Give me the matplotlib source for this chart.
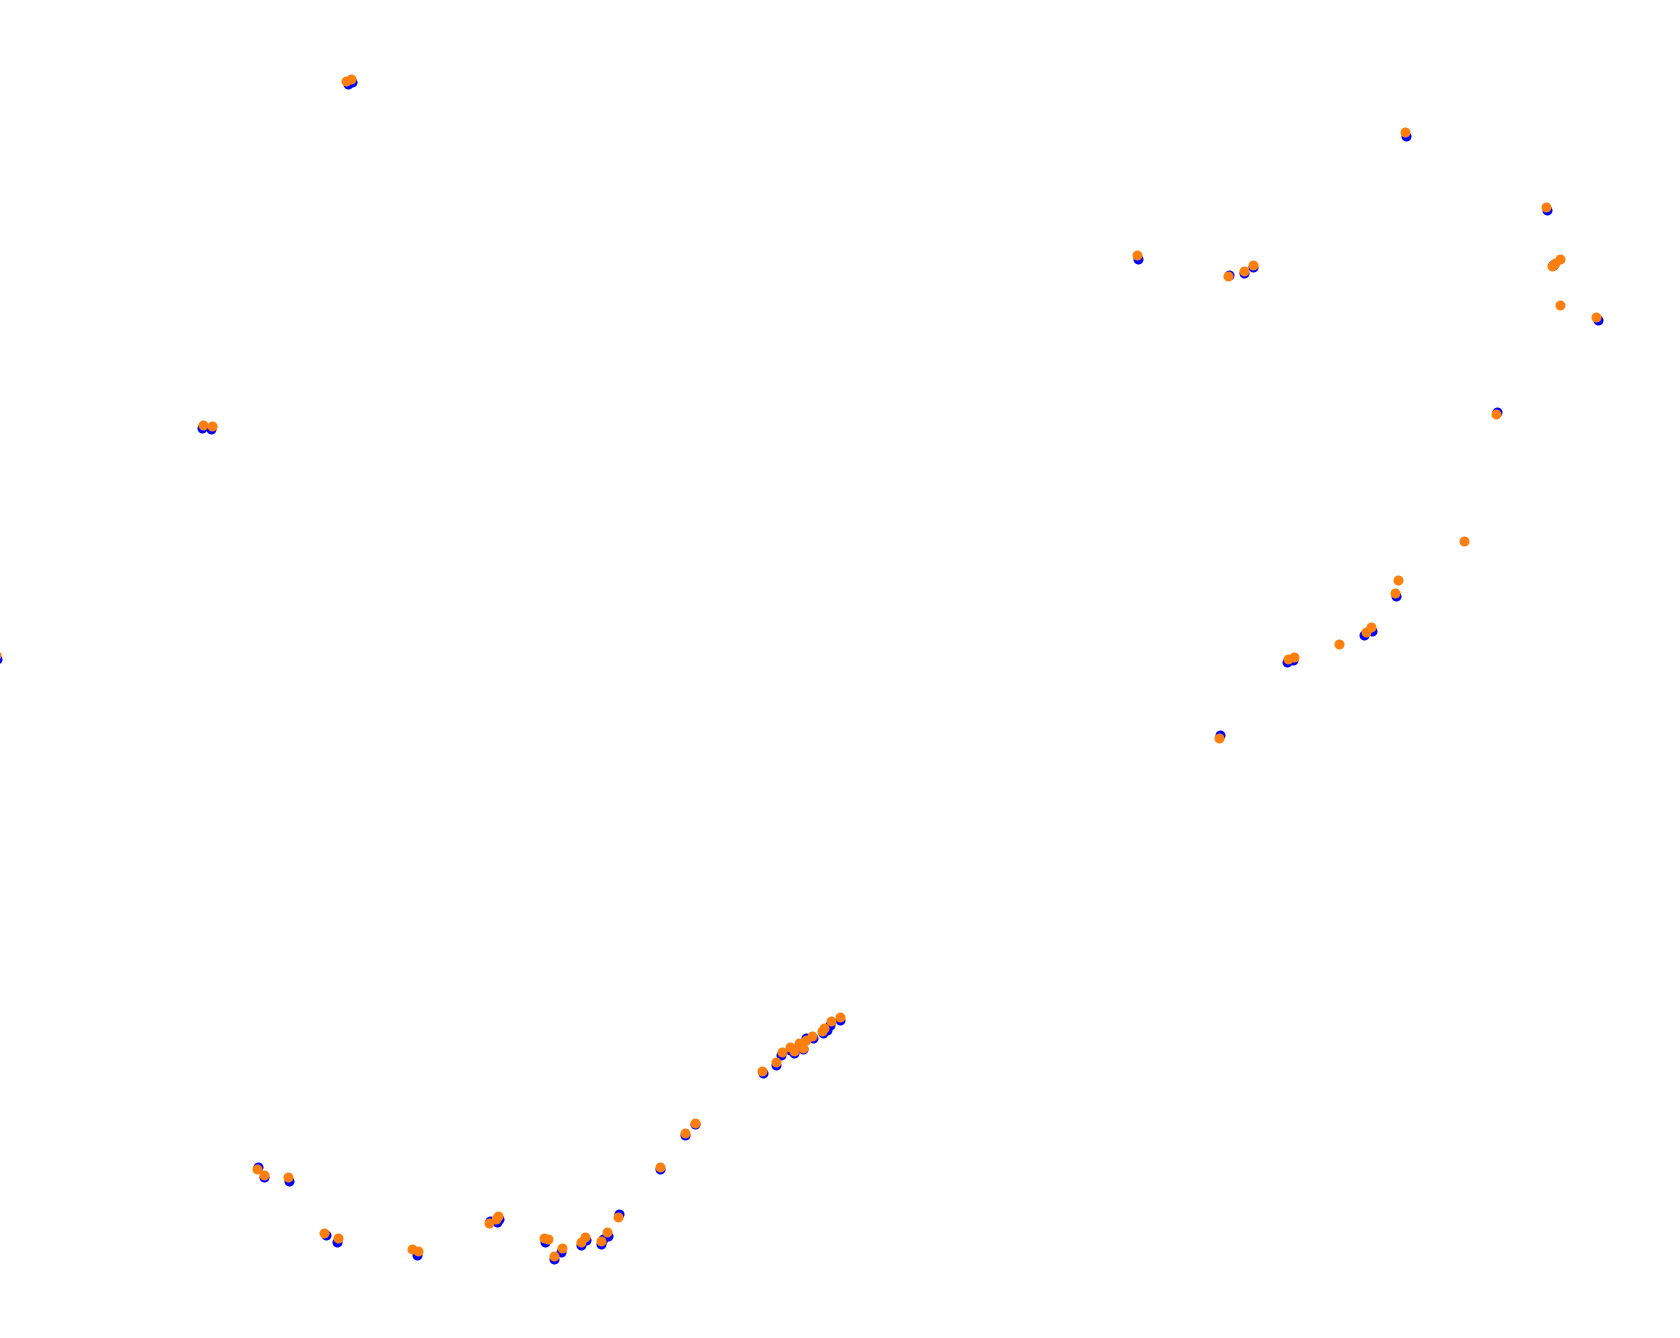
import matplotlib
matplotlib.use('Agg')
import matplotlib.pyplot as plt

# point positions (plot units, y grows downward)
blue_x = [347.7, 352.3, 201.7, 210.7, -3, 1405.5, 1137.5, 1228.5, 1244, 1252.5, 1546.5,
          1553, 1597.5, 1497, 1396, 1372.3, 1364.3, 1293.3, 1286.7, 1220,
          763, 776, 780.7, 790, 794.3, 799.3, 803.3, 806.3, 812.7, 823.3, 827.3, 830, 839.7,
          660, 684.6, 695.3,
          258, 264.3, 288.7, 326, 336.7, 416.7, 490, 496.7, 499.3, 545, 553.7, 560.7,
          580.7, 585.7, 601, 607.7, 602.7, 619]
blue_y = [84, 82, 428.3, 429.3, 659, 136, 258.5, 274.5, 273, 267, 210,
          265, 320, 412.3, 596, 630.7, 635.3, 660, 661.7, 735.3,
          1072.7, 1065.3, 1055, 1050, 1052.7, 1046.7, 1049.3, 1038.3, 1038.3, 1032.7, 1030, 1025, 1020,
          1168.5, 1134.6, 1124,
          1167.3, 1177.3, 1180.7, 1235, 1241.7, 1255, 1221, 1222.3, 1219, 1241.7, 1259, 1252,
          1245, 1240, 1244.3, 1235.7, 1238.7, 1214]

orange_x = [345.7, 351, 202.7, 211.7, -4, 1404.6, 1136.8, 1227.8, 1243.9, 1252.5, 1546,
            1552.4, 1554.6, 1560, 1560, 1596.4, 1495.7, 1463.7, 1397.7, 1395, 1370.7, 1365.7,
            1339, 1293.7, 1287.7, 1219,
            761.7, 776, 781.7, 790, 794, 799, 802.7, 805.7, 811.7, 821.7, 824, 831, 839.7,
            660, 684.6, 695.3,
            257, 264.3, 287.7, 324, 337.7, 411.7, 417.7, 488.7, 496, 498.3, 544.3, 547.7,
            553.7, 561.7, 580.7, 585, 601, 607, 617.7]
orange_y = [80.7, 78.7, 424.7, 426, 655, 131.5, 254.5, 276.4, 271.1, 264.6, 206.8,
            265.7, 262.5, 259.3, 305.3, 316.5, 413.7, 541, 580, 592.7, 627.3, 631.7,
            644, 656.7, 659.3, 737.7,
            1070.7, 1061.7, 1051.7, 1047.3, 1051, 1042.7, 1047.7, 1040, 1035.7, 1030.7, 1028.3, 1021, 1016.7,
            1166.8, 1132.5, 1122.8,
            1169.3, 1174.7, 1177.3, 1232.7, 1238.3, 1248.7, 1251.3, 1223.3, 1219, 1216.3, 1238, 1239.3,
            1255.7, 1248.3, 1242, 1236.7, 1241.3, 1232.3, 1216.7]

fig = plt.figure(figsize=(16.8, 13.38), dpi=100)
ax = fig.add_axes([0, 0, 1, 1])
ax.scatter(blue_x, blue_y, s=52, color="#0000ff", linewidths=0)
ax.scatter(orange_x, orange_y, s=52, color="#ff7f0e", linewidths=0)
ax.set_xlim(0, 1680)
ax.set_ylim(1338, 0)
ax.axis("off")
fig.savefig("out.png", dpi=100)
plt.close()
